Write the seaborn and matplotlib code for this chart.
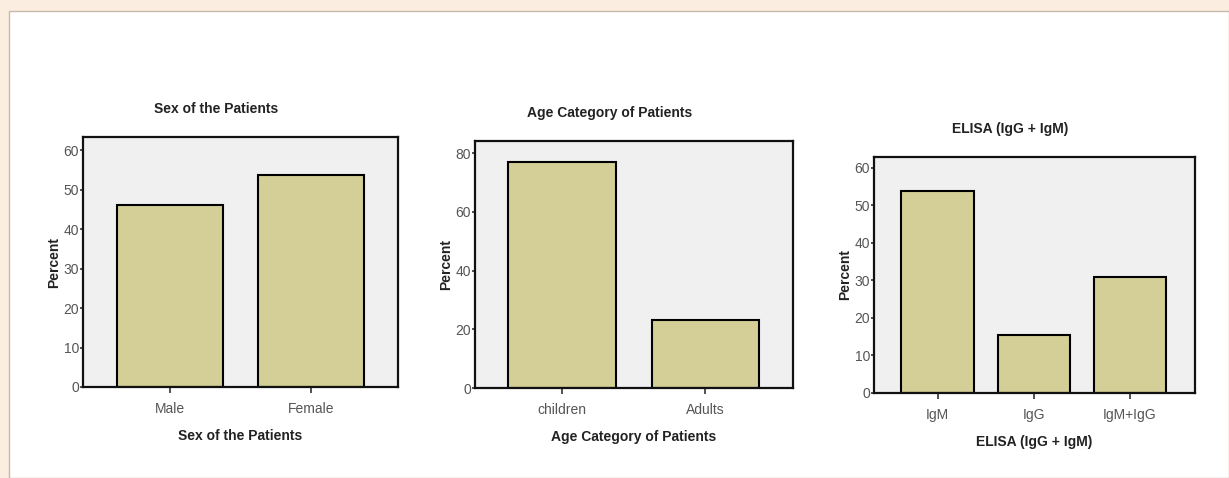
import numpy as np
import matplotlib
matplotlib.use('Agg')
import matplotlib.pyplot as plt
import seaborn as sns
from matplotlib.patches import Rectangle

# data
sex_labels = ['Male', 'Female']
sex_percent = [46.2, 53.8]

age_labels = ['children', 'Adults']
age_percent = [76.9, 23.1]

elisa_labels = ['IgM', 'IgG', 'IgM+IgG']
elisa_percent = [53.8, 15.4, 30.8]

panel_titles = ['Sex of the Patients', 'Age Category of Patients', 'ELISA (IgG + IgM)']
y_ticks = [np.arange(0, 61, 10), np.arange(0, 81, 20), np.arange(0, 61, 10)]
y_limits = [63.3, 84.1, 62.9]

bar_color = '#d4cf97'
face_color = '#f0f0f0'
page_color = '#fcede1'

sns.set_style('white')
plt.rcParams['font.family'] = ['Liberation Sans', 'DejaVu Sans']

W, H = 1229, 478
fig = plt.figure(figsize=(W / 100, H / 100), dpi=100)
fig.patch.set_facecolor(page_color)
# white page box inside the peach frame
fig.patches.append(Rectangle((9 / W, 0), 1 - 9 / W, 1 - 11 / H, transform=fig.transFigure,
                             facecolor='white', edgecolor='#c8b8aa', linewidth=1.0, zorder=-10))

# axes boxes in pixels: left, top, right, bottom
boxes = [(83, 137, 398, 387), (475, 141, 793, 388), (874, 157, 1195, 393)]
xlims = [(-0.617, 1.617), (-0.606, 1.61), (-0.66, 2.675)]
datasets = [(sex_labels, sex_percent), (age_labels, age_percent), (elisa_labels, elisa_percent)]

for i, ((l, t, r, b), (cats, vals)) in enumerate(zip(boxes, datasets)):
    ax = fig.add_axes([l / W, 1 - b / H, (r - l) / W, (b - t) / H])
    ax.set_facecolor(face_color)
    sns.barplot(x=cats, y=vals, ax=ax, color=bar_color, width=0.75,
                edgecolor='black', linewidth=1.5, saturation=1)
    ax.set_xlim(*xlims[i])
    ax.set_ylim(0, y_limits[i])
    ax.set_yticks(y_ticks[i])
    for s in ax.spines.values():
        s.set_visible(True)
        s.set_color('#111111')
        s.set_linewidth(1.6)
    ax.tick_params(axis='x', bottom=True, direction='out', length=4, width=1.2, color='#333333',
                   labelsize=10, labelcolor='#555555', pad=6.5)
    ax.tick_params(axis='y', left=True, direction='out', length=2.5, width=1.2, color='#333333',
                   labelsize=10, labelcolor='#555555', pad=0.3)
    ax.set_title(panel_titles[i], x=0.423, pad=17, fontsize=10, fontweight='bold', color='#222222')
    ax.set_xlabel(panel_titles[i], fontsize=10, fontweight='bold', color='#222222', labelpad=10)
    ax.set_ylabel('Percent', fontsize=10, fontweight='bold', color='#222222', labelpad=2)

fig.savefig('out.png', dpi=100, facecolor=fig.get_facecolor())
